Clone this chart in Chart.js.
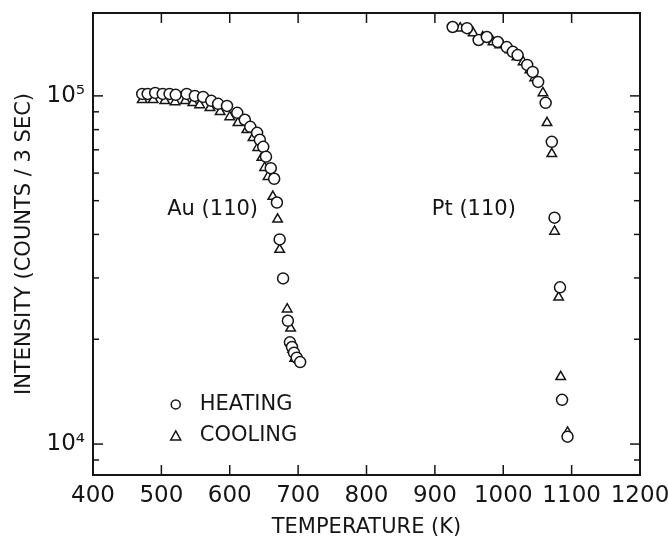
<!DOCTYPE html>
<html>
<head>
<meta charset="utf-8">
<script src="https://cdn.jsdelivr.net/npm/chart.js@4"></script>
<style>
  html, body { margin: 0; padding: 0; background: #fff; }
  #grafico { display: block; }
</style>
</head>
<body>
<canvas id="grafico" width="668" height="542"></canvas>
<script>
// Au (110) - aquecimento (círculos)
const tAuAquecimento = [472, 480, 491, 502, 512, 521, 537, 549, 561, 573, 583, 596, 611, 622, 630, 640, 644, 649, 653, 660, 665, 669, 673, 678, 685, 688, 691, 694, 698, 703];
const iAuAquecimento = [101300, 101300, 102000, 101300, 101300, 100700, 101300, 100000, 99300, 96800, 94900, 93600, 89400, 85400, 81500, 78300, 74800, 71400, 66900, 62000, 57800, 49400, 38700, 29900, 22600, 19600, 19000, 18300, 17700, 17200];

// Au (110) - resfriamento (triângulos)
const tAuResfriamento = [472, 488, 505, 520, 535, 546, 556, 571, 586, 600, 612, 625, 634, 641, 647, 651, 656, 663, 670, 673, 684, 689, 692, 695];
const iAuResfriamento = [97400, 97400, 96800, 96100, 96800, 95500, 94200, 92400, 90000, 87000, 83700, 79900, 75800, 71000, 66500, 62200, 58600, 51400, 44200, 36200, 24400, 21500, 18700, 17600];

// Pt (110) - aquecimento
const tPtAquecimento = [926, 947, 964, 976, 992, 1005, 1014, 1021, 1035, 1043, 1051, 1062, 1071, 1075, 1083, 1086, 1094];
const iPtAquecimento = [157700, 156500, 144700, 147600, 142800, 138100, 133800, 131000, 122700, 117200, 109700, 95500, 73800, 44700, 28200, 13400, 10500];

// Pt (110) - resfriamento
const tPtResfriamento = [937, 956, 970, 985, 995, 1010, 1020, 1029, 1039, 1046, 1058, 1064, 1071, 1075, 1081, 1084, 1094];
const iPtResfriamento = [156500, 151500, 147600, 142800, 140000, 135500, 129300, 125200, 118700, 112600, 102000, 83700, 68200, 40800, 26400, 15600, 10800];

// Eixos
const decadasY = [10000, 100000];
const rotulosY = ['10⁴', '10⁵'];

const fonte = "'DejaVu Sans', sans-serif";
const cor = '#151515';

function pontos(ts, is) {
    return ts.map((t, k) => ({ x: t, y: is[k] }));
}

// Moldura com marcas para dentro, rótulos e legenda
const moldura = {
    id: 'moldura',
    afterDatasetsDraw(chart) {
        const { ctx, chartArea: a, scales: { x, y } } = chart;
        ctx.save();
        ctx.strokeStyle = cor;
        ctx.lineWidth = 2;
        ctx.strokeRect(a.left, a.top, a.right - a.left, a.bottom - a.top);

        ctx.lineWidth = 1.5;
        const linha = (x1, y1, x2, y2) => {
            ctx.beginPath();
            ctx.moveTo(x1, y1);
            ctx.lineTo(x2, y2);
            ctx.stroke();
        };
        x.ticks.forEach(t => {
            if (t.value <= x.min || t.value >= x.max) return;
            const px = x.getPixelForValue(t.value);
            linha(px, a.bottom, px, a.bottom - 10);
            linha(px, a.top, px, a.top + 10);
        });
        y.ticks.forEach(t => {
            const e = Math.floor(Math.log10(t.value) + 1e-9);
            const m = t.value / Math.pow(10, e);
            if (Math.abs(m - Math.round(m)) > 1e-6) return;
            const py = y.getPixelForValue(t.value);
            const len = Math.round(m) === 1 ? 10 : 6;
            linha(a.left, py, a.left + len, py);
            linha(a.right, py, a.right - len, py);
        });

        ctx.fillStyle = cor;
        ctx.font = '21px ' + fonte;
        ctx.textBaseline = 'middle';
        ctx.textAlign = 'center';
        ctx.fillText('Au (110)', x.getPixelForValue(575), y.getPixelForValue(47100));
        ctx.fillText('Pt (110)', x.getPixelForValue(957), y.getPixelForValue(47100));

        // legenda
        ctx.textAlign = 'left';
        const lx = x.getPixelForValue(521);
        const y1 = y.getPixelForValue(13000);
        const y2 = y.getPixelForValue(10550);
        ctx.lineWidth = 1.5;
        ctx.beginPath();
        ctx.arc(lx, y1, 4.5, 0, Math.PI * 2);
        ctx.stroke();
        ctx.beginPath();
        ctx.moveTo(lx, y2 - 5);
        ctx.lineTo(lx + 5, y2 + 4);
        ctx.lineTo(lx - 5, y2 + 4);
        ctx.closePath();
        ctx.stroke();
        ctx.fillText('HEATING', lx + 24, y1);
        ctx.fillText('COOLING', lx + 24, y2);
        ctx.restore();
    }
};

const estiloCirculo = {
    pointStyle: 'circle',
    pointRadius: 5.5,
    pointBorderWidth: 1.5,
    borderColor: cor,
    backgroundColor: '#fff',
    showLine: false,
};
const estiloTriangulo = {
    pointStyle: 'triangle',
    pointRadius: 5.5,
    pointBorderWidth: 1.5,
    borderColor: cor,
    backgroundColor: '#fff',
    showLine: false,
};

const ctx = document.getElementById('grafico').getContext('2d');
new Chart(ctx, {
    type: 'scatter',
    data: {
        datasets: [
            { label: 'Au HEATING', data: pontos(tAuAquecimento, iAuAquecimento), ...estiloCirculo },
            { label: 'Au COOLING', data: pontos(tAuResfriamento, iAuResfriamento), ...estiloTriangulo },
            { label: 'Pt HEATING', data: pontos(tPtAquecimento, iPtAquecimento), ...estiloCirculo },
            { label: 'Pt COOLING', data: pontos(tPtResfriamento, iPtResfriamento), ...estiloTriangulo },
        ]
    },
    options: {
        responsive: false,
        animation: false,
        devicePixelRatio: 1,
        layout: { padding: { top: 13, right: 28, left: 0, bottom: 0 } },
        plugins: {
            legend: { display: false },
            tooltip: { enabled: false },
        },
        scales: {
            x: {
                type: 'linear',
                min: 400,
                max: 1200,
                grid: { display: false, drawTicks: false },
                border: { display: false },
                ticks: {
                    stepSize: 100,
                    autoSkip: false,
                    maxRotation: 0,
                    padding: 7,
                    color: cor,
                    font: { family: fonte, size: 23 },
                    callback: v => String(v),
                },
                title: {
                    display: true,
                    text: 'TEMPERATURE (K)',
                    color: cor,
                    font: { family: fonte, size: 21 },
                    padding: { top: 0, bottom: 2 },
                },
                afterFit(s) {
                    s.height = 67;
                    s.paddingLeft = 0;
                    s.paddingRight = 0;
                },
            },
            y: {
                type: 'logarithmic',
                min: 8150,
                max: 173000,
                grid: { display: false, drawTicks: false },
                border: { display: false },
                ticks: {
                    autoSkip: false,
                    padding: 8,
                    color: cor,
                    font: { family: fonte, size: 23 },
                    callback(v) {
                        const k = decadasY.indexOf(v);
                        return k >= 0 ? rotulosY[k] : '';
                    },
                },
                title: {
                    display: true,
                    text: 'INTENSITY (COUNTS / 3 SEC)',
                    color: cor,
                    font: { family: fonte, size: 21 },
                    padding: { top: 12, bottom: 0 },
                },
                afterFit(s) {
                    s.width = 93;
                    s.paddingTop = 0;
                    s.paddingBottom = 0;
                },
            },
        },
    },
    plugins: [moldura],
});
</script>
</body>
</html>
